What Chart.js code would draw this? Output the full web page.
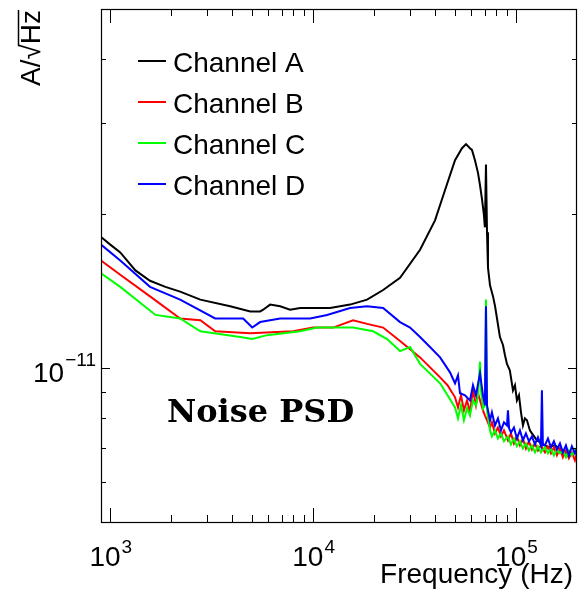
<!DOCTYPE html>
<html>
<head>
<meta charset="utf-8">
<script src="https://cdn.jsdelivr.net/npm/chart.js@4.4.1/dist/chart.umd.min.js"></script>
<style>
body { margin: 0; background: #fff; }
#wrap { width: 579px; height: 603px; }
</style>
</head>
<body>
<div id="wrap"><canvas id="psd" width="579" height="603"></canvas></div>
<script>
// noise amplitude spectral density, A/sqrt(Hz)

const freqA = [900, 1000, 1120, 1330, 1570, 1870, 2210, 2780, 3900, 4900, 5480, 5670, 6140, 6880, 7700, 8630, 12130, 15210, 18450, 22140, 26830, 33670, 39900, 44680, 50080, 54200, 56750, 59330, 60700, 62800, 65000, 66500, 68050, 69500, 70300, 71160, 72000, 72800, 74500, 77100, 78900, 83400, 86300, 88300, 90300, 93300, 96700, 98900, 101100, 103500, 105900, 108300, 110700, 113300, 117200, 119900, 126800, 134300, 143900, 155600, 168600, 184500, 199000];
const psdA = [18.0e-12, 17.4e-12, 16.8e-12, 15.5e-12, 14.8e-12, 14.4e-12, 14.1e-12, 13.6e-12, 13.2e-12, 12.9e-12, 12.9e-12, 13.0e-12, 13.3e-12, 13.2e-12, 13.0e-12, 13.1e-12, 13.1e-12, 13.3e-12, 13.6e-12, 14.2e-12, 15.0e-12, 17.0e-12, 19.4e-12, 22.2e-12, 25.4e-12, 26.8e-12, 27.3e-12, 26.8e-12, 26.6e-12, 25.4e-12, 24.0e-12, 22.7e-12, 21.3e-12, 19.9e-12, 18.8e-12, 24.9e-12, 18.4e-12, 15.7e-12, 14.5e-12, 13.8e-12, 13.2e-12, 11.5e-12, 11.1e-12, 10.6e-12, 10.2e-12, 9.91e-12, 9.06e-12, 9.27e-12, 8.66e-12, 8.86e-12, 8.21e-12, 7.74e-12, 7.99e-12, 7.92e-12, 7.57e-12, 7.47e-12, 7.24e-12, 7.14e-12, 7.02e-12, 7.08e-12, 6.92e-12, 6.77e-12, 6.92e-12];

const freqB = [900, 1120, 1570, 2210, 2780, 3290, 4900, 7970, 10000, 12550, 15740, 18450, 22140, 26830, 33670, 42270, 46000, 50080, 51800, 53600, 55400, 57400, 59330, 61400, 63500, 65000, 66500, 68800, 70300, 72000, 74500, 76150, 78810, 81530, 84360, 87290, 91340, 94500, 97750, 101100, 104640, 108270, 112000, 115900, 119900, 124100, 128400, 132800, 139000, 143800, 148800, 153900, 159200, 164800, 170400, 176400, 182400, 188700, 195300, 199700];
const psdB = [16.2e-12, 15.2e-12, 13.8e-12, 12.5e-12, 12.4e-12, 11.8e-12, 11.7e-12, 11.8e-12, 12.0e-12, 12.0e-12, 12.4e-12, 12.2e-12, 12.0e-12, 11.3e-12, 10.5e-12, 9.60e-12, 9.27e-12, 8.78e-12, 8.39e-12, 8.86e-12, 8.28e-12, 8.66e-12, 8.21e-12, 9.06e-12, 8.47e-12, 8.94e-12, 8.66e-12, 8.28e-12, 8.10e-12, 7.92e-12, 7.67e-12, 7.85e-12, 7.47e-12, 7.67e-12, 7.37e-12, 7.57e-12, 7.24e-12, 7.47e-12, 7.14e-12, 7.37e-12, 7.08e-12, 7.30e-12, 6.98e-12, 7.21e-12, 6.95e-12, 7.14e-12, 6.92e-12, 7.08e-12, 6.86e-12, 7.05e-12, 6.83e-12, 7.02e-12, 6.77e-12, 6.98e-12, 6.71e-12, 6.92e-12, 6.68e-12, 6.86e-12, 6.62e-12, 6.83e-12];

const freqC = [900, 1120, 1670, 2210, 2780, 4370, 5010, 5930, 8630, 10460, 13130, 15740, 19770, 23170, 26830, 30060, 33670, 42270, 46000, 50080, 51800, 53600, 55400, 57400, 59330, 61400, 63500, 65000, 66500, 67300, 68800, 70300, 71160, 72000, 74500, 76150, 78810, 81530, 84360, 87290, 91340, 94500, 97750, 101100, 104640, 108270, 112000, 115900, 119900, 124100, 128400, 132800, 139000, 143800, 148800, 153900, 159200, 164800, 170400, 176400, 182400, 188700, 195300, 199700];
const psdC = [15.3e-12, 14.4e-12, 12.7e-12, 12.5e-12, 11.8e-12, 11.5e-12, 11.4e-12, 11.6e-12, 11.8e-12, 12.0e-12, 12.0e-12, 12.0e-12, 11.8e-12, 11.4e-12, 10.8e-12, 11.0e-12, 10.2e-12, 9.35e-12, 8.86e-12, 8.39e-12, 7.99e-12, 8.47e-12, 7.92e-12, 8.36e-12, 8.10e-12, 8.66e-12, 8.47e-12, 8.86e-12, 10.3e-12, 9.06e-12, 8.36e-12, 8.47e-12, 13.6e-12, 8.28e-12, 7.57e-12, 7.37e-12, 7.57e-12, 7.30e-12, 7.47e-12, 7.21e-12, 7.37e-12, 7.11e-12, 7.30e-12, 7.05e-12, 7.21e-12, 6.98e-12, 7.14e-12, 6.92e-12, 7.08e-12, 6.86e-12, 7.05e-12, 6.86e-12, 7.02e-12, 6.83e-12, 6.98e-12, 6.77e-12, 6.95e-12, 6.83e-12, 6.92e-12, 6.71e-12, 6.92e-12, 6.77e-12, 6.95e-12, 6.83e-12];

const freqD = [900, 1120, 1570, 2210, 3290, 4520, 5010, 5480, 6880, 9670, 11720, 15210, 18450, 22140, 26830, 30060, 33670, 37700, 42270, 47300, 50080, 51800, 52990, 56100, 59330, 61400, 63500, 66500, 68800, 70300, 71160, 72000, 74500, 76150, 78810, 81530, 84360, 87290, 90300, 91340, 92500, 94500, 97750, 101100, 104640, 108270, 112000, 115900, 119900, 124100, 128400, 132800, 134300, 135800, 139000, 143800, 148800, 153900, 159200, 164800, 170400, 176400, 182400, 188700, 195300, 199700];
const psdD = [17.4e-12, 16.2e-12, 14.4e-12, 13.6e-12, 12.5e-12, 12.5e-12, 12.0e-12, 12.3e-12, 12.5e-12, 12.5e-12, 12.7e-12, 13.1e-12, 13.2e-12, 13.1e-12, 12.3e-12, 12.0e-12, 11.5e-12, 11.0e-12, 10.5e-12, 9.82e-12, 9.35e-12, 9.69e-12, 8.94e-12, 8.86e-12, 8.66e-12, 9.27e-12, 8.86e-12, 9.78e-12, 8.86e-12, 8.47e-12, 13.2e-12, 8.47e-12, 7.92e-12, 8.21e-12, 7.74e-12, 7.99e-12, 7.57e-12, 7.85e-12, 7.74e-12, 8.28e-12, 7.64e-12, 7.50e-12, 7.67e-12, 7.30e-12, 7.57e-12, 7.24e-12, 7.47e-12, 7.21e-12, 7.37e-12, 7.11e-12, 7.34e-12, 7.08e-12, 9.06e-12, 7.08e-12, 7.08e-12, 7.30e-12, 7.02e-12, 7.21e-12, 6.95e-12, 7.14e-12, 6.86e-12, 7.08e-12, 6.77e-12, 7.05e-12, 6.83e-12, 6.98e-12];

const channelNames = ['Channel A', 'Channel B', 'Channel C', 'Channel D'];
const channelColors = ['#000000', '#ff0000', '#00ff00', '#0000ff'];

const xMajorTicks = [1e3, 1e4, 1e5];
const xMinorTicks = [2e3, 3e3, 4e3, 5e3, 6e3, 7e3, 8e3, 9e3, 2e4, 3e4, 4e4, 5e4, 6e4, 7e4, 8e4, 9e4];
const yMajorTicks = [1e-11];
const yMinorTicks = [6e-12, 7e-12, 8e-12, 9e-12, 2e-11, 3e-11, 4e-11];
const xTickExp = ['3', '4', '5'];
const yTickExp = ['\u221211'];

function toPoints(freq, psd) {
    let pts = [];
    for (let i = 0; i < freq.length; i++) {
        pts.push({x: freq[i], y: psd[i]});
    }
    return pts;
}

const SANS = '"Liberation Sans", Arial, sans-serif';

function drawPower(ctx, exp, x, baseline, align, raise) {
    ctx.font = '28px ' + SANS;
    let wBase = ctx.measureText('10').width;
    ctx.font = '19px ' + SANS;
    let wExp = ctx.measureText(exp).width;
    let start = x;
    if (align === 'center') start = x - (wBase + wExp) / 2;
    if (align === 'right') start = x - wBase - wExp;
    ctx.textAlign = 'left';
    ctx.font = '28px ' + SANS;
    ctx.fillText('10', start, baseline);
    ctx.font = '19px ' + SANS;
    ctx.fillText(exp, start + wBase + 1, baseline - raise);
}

const frameTicks = {
    id: 'frameTicks',
    afterDatasetsDraw(chart) {
        const ctx = chart.ctx;
        const a = chart.chartArea;
        const x = chart.scales.x;
        const y = chart.scales.y;
        ctx.save();
        ctx.strokeStyle = '#000';
        ctx.lineWidth = 1.2;
        ctx.strokeRect(a.left + 0.5, a.top + 0.5, a.right - a.left - 1, a.bottom - a.top - 1);

        ctx.lineWidth = 1;
        ctx.beginPath();
        function xTick(v, lenB, lenT) {
            let px = Math.round(x.getPixelForValue(v)) + 0.5;
            ctx.moveTo(px, a.bottom);
            ctx.lineTo(px, a.bottom - lenB);
            ctx.moveTo(px, a.top);
            ctx.lineTo(px, a.top + lenT);
        }
        function yTick(v, len) {
            let py = Math.round(y.getPixelForValue(v)) + 0.5;
            ctx.moveTo(a.left, py);
            ctx.lineTo(a.left + len, py);
            ctx.moveTo(a.right, py);
            ctx.lineTo(a.right - len, py);
        }
        xMajorTicks.forEach(v => xTick(v, 15, 14));
        xMinorTicks.forEach(v => xTick(v, 8, 7));
        yMajorTicks.forEach(v => yTick(v, 9));
        yMinorTicks.forEach(v => yTick(v, 5));
        ctx.stroke();
        ctx.restore();
    },
    afterDraw(chart) {
        const ctx = chart.ctx;
        const a = chart.chartArea;
        const x = chart.scales.x;
        const y = chart.scales.y;
        ctx.save();
        ctx.fillStyle = '#000';
        ctx.textBaseline = 'alphabetic';

        // tick labels
        xMajorTicks.forEach((v, i) => {
            drawPower(ctx, xTickExp[i], x.getPixelForValue(v), a.bottom + 43, 'center', 13);
        });
        yMajorTicks.forEach((v, i) => {
            drawPower(ctx, yTickExp[i], a.left - 6, y.getPixelForValue(v) + 14, 'right', 16);
        });

        // axis titles
        ctx.font = '28px ' + SANS;
        ctx.textAlign = 'right';
        ctx.fillText('Frequency (Hz)', a.right - 4, a.bottom + 60);

        ctx.save();
        ctx.translate(40, a.top + 1);
        ctx.rotate(-Math.PI / 2);
        ctx.textAlign = 'right';
        ctx.fillText('A/\u221AHz', 0, 0);
        let wHz = ctx.measureText('Hz').width;
        let rootTop = ctx.measureText('\u221A').actualBoundingBoxAscent;
        ctx.lineWidth = 1.5;
        ctx.beginPath();
        ctx.moveTo(-wHz - 2, -rootTop + 0.5);
        ctx.lineTo(0, -rootTop + 0.5);
        ctx.stroke();
        ctx.restore();

        // legend
        ctx.textAlign = 'left';
        ctx.font = '28px ' + SANS;
        chart.data.datasets.forEach((ds, i) => {
            let ly = a.top + 52 + i * 41;
            ctx.strokeStyle = ds.borderColor;
            ctx.lineWidth = 2;
            ctx.beginPath();
            ctx.moveTo(a.left + 37, ly);
            ctx.lineTo(a.left + 65, ly);
            ctx.stroke();
            ctx.fillText(ds.label, a.left + 72, ly + 11);
        });

        // text box
        ctx.font = 'bold 32px "DejaVu Serif", serif';
        ctx.fillText('Noise PSD', 167, 422);
        ctx.restore();
    }
};

const series = [[freqA, psdA], [freqB, psdB], [freqC, psdC], [freqD, psdD]];

new Chart(document.getElementById('psd'), {
    type: 'line',
    data: {
        datasets: series.map((s, i) => ({
            label: channelNames[i],
            data: toPoints(s[0], s[1]),
            borderColor: channelColors[i],
            backgroundColor: channelColors[i],
            borderWidth: 2,
            pointRadius: 0,
            tension: 0,
            fill: false,
            order: 3 - i
        }))
    },
    options: {
        responsive: false,
        animation: false,
        layout: { padding: { left: 101, right: 2, top: 9, bottom: 80 } },
        plugins: {
            legend: { display: false },
            tooltip: { enabled: false }
        },
        scales: {
            x: { type: 'logarithmic', min: 900, max: 200000, display: false },
            y: { type: 'logarithmic', min: 5e-12, max: 5e-11, display: false }
        }
    },
    plugins: [frameTicks]
});
</script>
</body>
</html>
